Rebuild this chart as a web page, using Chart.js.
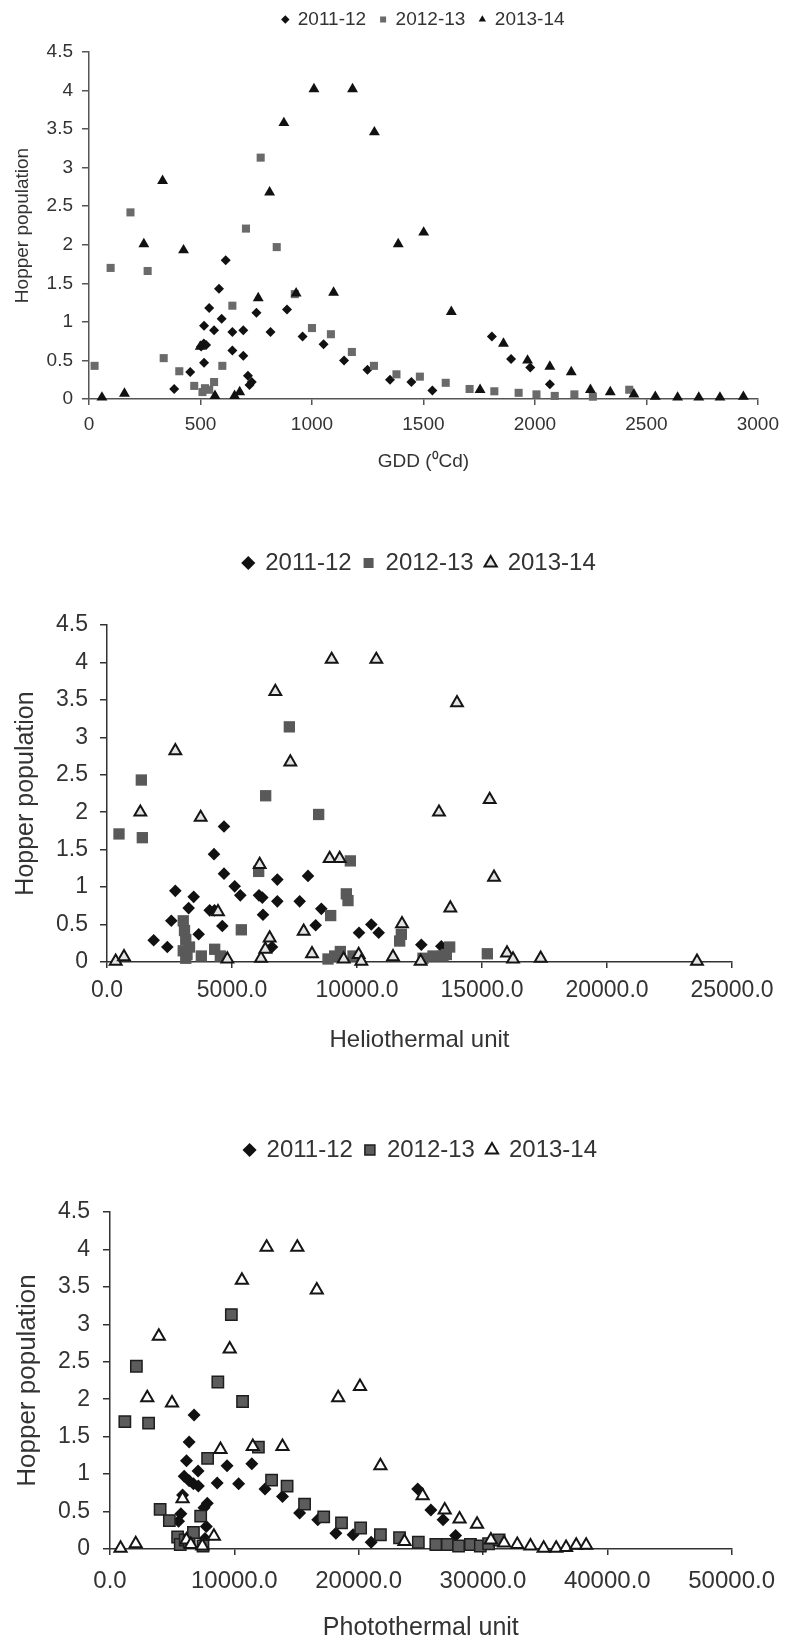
<!DOCTYPE html>
<html><head><meta charset="utf-8">
<script src="https://cdn.jsdelivr.net/npm/chart.js@4.4.1/dist/chart.umd.min.js"></script>
<style>
html,body{margin:0;padding:0;background:#fff;}
#wrap{position:relative;width:787px;height:1645px;overflow:hidden;background:#fff;}
canvas{position:absolute;left:0;}
</style></head><body>
<div id="wrap">
<canvas id="c1" width="787" height="489" style="top:-4px"></canvas>
<canvas id="c2" width="787" height="521" style="top:539px"></canvas>
<canvas id="c3" width="787" height="519" style="top:1126px"></canvas>
</div>
<script>
const seasons = ['2011-12', '2012-13', '2013-14'];
const popTicks = [0, 0.5, 1, 1.5, 2, 2.5, 3, 3.5, 4, 4.5];
const gddTicks = [0, 500, 1000, 1500, 2000, 2500, 3000];
const htuTicks = [0, 5000, 10000, 15000, 20000, 25000];
const ptuTicks = [0, 10000, 20000, 30000, 40000, 50000];
const gddTitle = 'GDD (\u2070Cd)';
const htuTitle = 'Heliothermal unit';
const ptuTitle = 'Photothermal unit';
const yTitle = 'Hopper population';

// ---- GDD chart ----
const gdd_2011 = [382,454,503,516,516,515,525,539,561,583,595,613,643,643,692,692,713,720,730,751,814,888,958,1052,1144,1249,1350,1446,1540,1807,1893,1979,2067];
const gddPop_2011 = [0.13,0.35,0.68,0.47,0.95,0.72,0.70,1.18,0.89,1.43,1.04,1.80,0.87,0.63,0.89,0.56,0.30,0.18,0.22,1.12,0.87,1.16,0.81,0.71,0.50,0.38,0.25,0.22,0.11,0.81,0.52,0.41,0.19];
const gdd_2012 = [25,97,186,263,335,405,472,509,520,539,561,598,643,704,770,842,923,1000,1085,1179,1278,1379,1484,1600,1707,1818,1927,2007,2089,2177,2260,2423];
const gddPop_2012 = [0.43,1.70,2.42,1.66,0.53,0.36,0.17,0.09,0.14,0.12,0.22,0.43,1.21,2.21,3.13,1.97,1.36,0.92,0.84,0.61,0.43,0.32,0.29,0.21,0.13,0.10,0.08,0.06,0.04,0.06,0.03,0.12];
const gdd_2013 = [58,159,246,330,424,499,565,653,676,759,810,874,929,1009,1097,1182,1280,1387,1501,1625,1754,1859,1967,2067,2163,2249,2338,2444,2540,2640,2735,2830,2935];
const gddPop_2013 = [0.02,0.07,2.01,2.83,1.93,0.68,0.04,0.04,0.09,1.31,2.68,3.58,1.37,4.02,1.38,4.02,3.46,2.01,2.16,1.13,0.12,0.72,0.50,0.42,0.35,0.12,0.09,0.06,0.03,0.02,0.02,0.02,0.03];

// ---- Heliothermal chart ----
const htu_2011 = [1867,2413,2573,2733,3267,3467,3667,4107,4300,4280,4613,4680,4680,5107,5333,6080,6213,6240,6600,6813,6813,7707,8040,8347,8573,10080,10573,10867,12573,13373];
const htuPop_2011 = [0.29,0.20,0.55,0.95,0.72,0.87,0.37,0.69,0.69,1.44,0.48,1.81,1.18,1.01,0.89,0.89,0.86,0.63,0.20,1.10,0.81,0.81,1.15,0.49,0.71,0.39,0.50,0.39,0.23,0.21];
const htu_2012 = [480,1373,1413,3050,3100,3150,3050,3200,3150,3300,3773,4307,4533,5373,6067,6347,7293,8467,8840,8947,9107,9333,9573,9640,9733,9840,11707,11773,12640,13040,13440,13573,13707,15213];
const htuPop_2012 = [1.71,2.43,1.66,0.55,0.42,0.30,0.15,0.10,0.05,0.20,0.08,0.17,0.08,0.43,1.21,2.22,3.14,1.97,0.04,0.62,0.08,0.14,0.91,0.82,1.35,0.08,0.28,0.37,0.05,0.08,0.08,0.10,0.20,0.11];
const htu_2013 = [347,680,1333,2733,3747,4440,4813,6107,6160,6333,6507,6733,7333,7867,8200,8907,8987,9307,9467,10067,10173,10773,11440,11800,12547,13280,13733,14000,15307,15480,16000,16240,17347,23600];
const htuPop_2013 = [0.01,0.07,2.00,2.82,1.93,0.67,0.04,1.30,0.05,0.17,0.32,3.61,2.67,0.41,0.11,1.38,4.04,1.38,0.04,0.10,0.01,4.04,0.07,0.51,0.01,2.00,0.72,3.46,2.17,1.13,0.12,0.04,0.05,0.01];

// ---- Photothermal chart ----
const ptu_2011 = [5517,5703,5836,5968,6154,6366,6366,6711,6764,7082,7109,7560,7825,7745,7639,8621,9416,10345,11406,12467,13873,15252,16711,18170,19549,21008,24748,25809,26790,27798];
const ptuPop_2011 = [0.37,0.47,0.72,0.97,1.18,1.43,0.91,0.87,1.79,1.04,0.84,0.55,0.61,0.30,0.14,0.88,1.11,0.87,1.14,0.80,0.70,0.48,0.39,0.21,0.19,0.09,0.80,0.52,0.39,0.18];
const ptu_2012 = [1194,2122,3103,4032,4775,5438,5650,6048,6366,6711,7294,7480,7851,8674,9761,10663,11936,12997,14244,15650,17188,18621,20159,21751,23289,24801,26207,27135,28037,28992,29788,30451,31300];
const ptuPop_2012 = [1.70,2.44,1.68,0.53,0.38,0.16,0.06,0.12,0.10,0.22,0.44,0.04,1.21,2.23,3.13,1.97,1.36,0.92,0.84,0.60,0.43,0.35,0.28,0.19,0.15,0.09,0.06,0.06,0.04,0.06,0.04,0.07,0.12];
const ptu_2013 = [849,2069,2997,3926,4987,5836,6154,6499,7427,8355,8886,9629,10610,11485,12599,13873,15066,16631,18355,20106,21751,23687,25146,26923,28117,29523,30637,31698,32759,33820,34881,35889,36684,37500,38300];
const ptuPop_2013 = [0.01,0.07,2.02,2.84,1.95,0.67,0.12,0.06,0.04,0.17,1.33,2.67,3.59,1.37,4.03,1.37,4.03,3.46,2.02,2.17,1.11,0.10,0.71,0.52,0.40,0.33,0.12,0.08,0.06,0.04,0.01,0.01,0.02,0.05,0.05];

const FONT = "'Liberation Sans', Arial, Helvetica, sans-serif";
const pts = (xs, ys) => xs.map((x, i) => ({x: x, y: ys[i]}));

function makeChart(id, g) {
  const datasets = g.series.map((s, i) => ({
    label: seasons[i],
    data: pts(s.x, s.y),
    pointStyle: s.style,
    pointRadius: s.r,
    pointHoverRadius: s.r,
    pointBackgroundColor: s.fill,
    backgroundColor: s.fill,
    pointBorderColor: s.border,
    borderColor: s.border,
    pointBorderWidth: s.bw,
    borderWidth: s.bw,
    showLine: false,
    clip: false,
    order: 2 - i
  }));
  return new Chart(document.getElementById(id), {
    type: 'scatter',
    data: { datasets: datasets },
    options: {
      responsive: false,
      animation: false,
      devicePixelRatio: 1,
      layout: { padding: { top: 0, left: 0, right: g.padRight, bottom: 0 } },
      plugins: {
        tooltip: { enabled: false },
        legend: {
          display: true, position: 'top', align: 'center', fullSize: false, weight: 3000,
          labels: {
            usePointStyle: true, boxWidth: g.legendBox, boxHeight: g.legendBox,
            padding: g.legendPad, color: '#333',
            font: { family: FONT, size: g.legendFont },
            sort: (a, b) => a.datasetIndex - b.datasetIndex
          }
        },
        title: {
          display: true, text: '', weight: 2000,
          font: { size: 10, lineHeight: 1 },
          padding: { top: g.spacer - 10, bottom: 0 }
        }
      },
      scales: {
        x: {
          type: 'linear', min: g.xTicks[0], max: g.xTicks[g.xTicks.length - 1],
          afterBuildTicks: s => { s.ticks = g.xTicks.map(v => ({value: v})); },
          afterFit: s => { s.height = g.xHeight; },
          border: { display: true, color: g.axisColor, width: 1.5 },
          grid: { display: true, drawOnChartArea: false, drawTicks: true, tickLength: 6, color: g.axisColor, lineWidth: 1.5 },
          ticks: {
            autoSkip: false, maxRotation: 0, minRotation: 0, padding: g.xTickPad, color: '#333',
            font: { family: FONT, size: g.xTickFont },
            callback: g.xFmt
          },
          title: {
            display: true, text: g.xTitle, color: '#333',
            font: { family: FONT, size: g.xTitleFont },
            padding: { top: 0, bottom: g.xTitlePad }
          }
        },
        y: {
          type: 'linear', min: 0, max: 4.5,
          afterBuildTicks: s => { s.ticks = popTicks.map(v => ({value: v})); },
          afterFit: s => { s.width = g.yWidth; },
          border: { display: true, color: g.axisColor, width: 1.5 },
          grid: { display: true, drawOnChartArea: false, drawTicks: true, tickLength: 7, color: g.axisColor, lineWidth: 1.5 },
          ticks: {
            padding: g.yTickPad, color: '#333',
            font: { family: FONT, size: g.yTickFont },
            callback: v => String(v)
          },
          title: {
            display: true, text: yTitle, color: '#333',
            font: { family: FONT, size: g.yTitleFont },
            padding: { top: g.yTitlePad, bottom: 0 }
          }
        }
      }
    }
  });
}

makeChart('c1', {
  series: [
    { x: gdd_2011, y: gddPop_2011, style: 'rectRot', r: 5.0, fill: '#111111', border: '#111111', bw: 0 },
    { x: gdd_2012, y: gddPop_2012, style: 'rect', r: 5.7, fill: '#6a6a6a', border: '#6a6a6a', bw: 0 },
    { x: gdd_2013, y: gddPop_2013, style: 'triangle', r: 6.3, fill: '#111111', border: '#111111', bw: 0 }
  ],
  xTicks: gddTicks, xFmt: v => String(v), xTitle: gddTitle,
  padRight: 26, yWidth: 89, xHeight: 86,
  legendBox: 6, legendPad: 14, legendFont: 19, spacer: 13,
  axisColor: '#555555', xTickFont: 19, yTickFont: 19, xTitleFont: 19, yTitleFont: 19,
  xTickPad: 8, yTickPad: 9, xTitlePad: 12, yTitlePad: 11
});

makeChart('c2', {
  series: [
    { x: htu_2011, y: htuPop_2011, style: 'rectRot', r: 6.3, fill: '#111111', border: '#111111', bw: 0 },
    { x: htu_2012, y: htuPop_2012, style: 'rect', r: 8.0, fill: '#595959', border: '#595959', bw: 0 },
    { x: htu_2013, y: htuPop_2013, style: 'triangle', r: 6.8, fill: '#e4e4e4', border: '#151515', bw: 2 }
  ],
  xTicks: htuTicks, xFmt: v => v.toFixed(1), xTitle: htuTitle,
  padRight: 55, yWidth: 107, xHeight: 98,
  legendBox: 10, legendPad: 12, legendFont: 24, spacer: 40,
  axisColor: '#333333', xTickFont: 23, yTickFont: 23, xTitleFont: 24, yTitleFont: 25,
  xTickPad: 9, yTickPad: 12, xTitlePad: 5, yTitlePad: 11
});

makeChart('c3', {
  series: [
    { x: ptu_2011, y: ptuPop_2011, style: 'rectRot', r: 6.5, fill: '#111111', border: '#111111', bw: 0 },
    { x: ptu_2012, y: ptuPop_2012, style: 'rect', r: 8.0, fill: '#5c5c5c', border: '#1e1e1e', bw: 1.5 },
    { x: ptu_2013, y: ptuPop_2013, style: 'triangle', r: 7.0, fill: '#ffffff', border: '#151515', bw: 2 }
  ],
  xTicks: ptuTicks, xFmt: v => v.toFixed(1), xTitle: ptuTitle,
  padRight: 49, yWidth: 110, xHeight: 96,
  legendBox: 10, legendPad: 12, legendFont: 24, spacer: 40,
  axisColor: '#333333', xTickFont: 24, yTickFont: 23, xTitleFont: 25, yTitleFont: 26,
  xTickPad: 12, yTickPad: 13, xTitlePad: 2, yTitlePad: 12
});
</script>
</body></html>
